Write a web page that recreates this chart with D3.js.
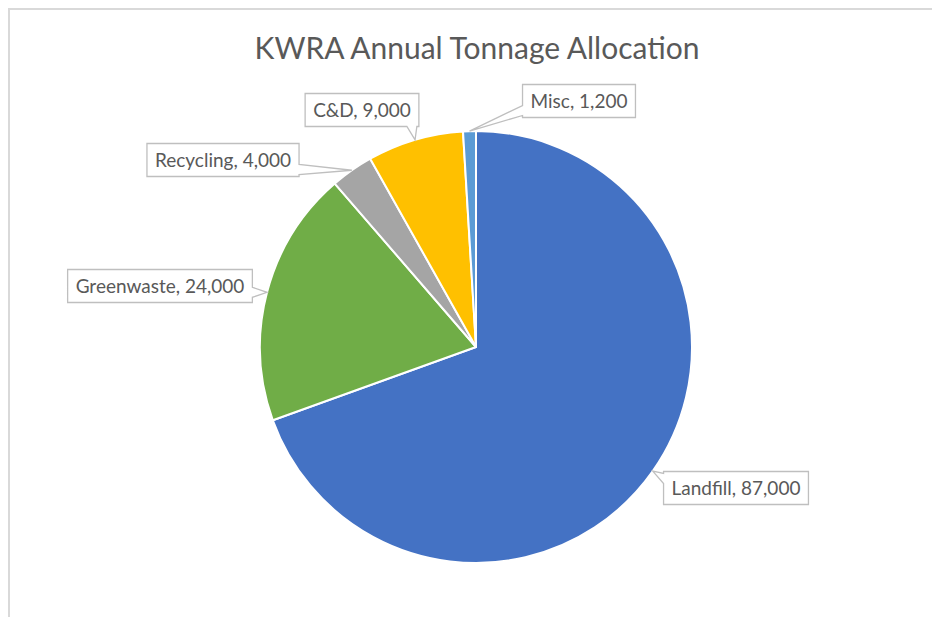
<!DOCTYPE html>
<html>
<head>
<meta charset="utf-8">
<script src="https://cdn.jsdelivr.net/npm/d3@7"></script>
<style>
  body { margin: 0; background: #fff; }
  svg { display: block; }
</style>
</head>
<body>
<div id="chart"></div>
<script>
// data
var categories = ["Landfill", "Greenwaste", "Recycling", "C&D", "Misc"];
var tonnage = [87000, 24000, 4000, 9000, 1200];
var colors = ["#4472C4", "#70AD47", "#A5A5A5", "#FFC000", "#5B9BD5"];

// label box centres (layout only)
var labelPos = {
  "Landfill": [736, 488],
  "Greenwaste": [160, 286],
  "Recycling": [223, 160],
  "C&D": [362, 110],
  "Misc": [579, 101]
};

var width = 932, height = 617;
var cx = 476, cy = 347, radius = 216;

var svg = d3.select("#chart").append("svg")
  .attr("width", width)
  .attr("height", height);

// chart area frame (only top/left visible)
svg.append("rect")
  .attr("x", 9).attr("y", 9)
  .attr("width", 1000).attr("height", 1000)
  .attr("fill", "#fff")
  .attr("stroke", "#d9d9d9")
  .attr("stroke-width", 2);

svg.append("text")
  .attr("x", 477)
  .attr("y", 59)
  .attr("text-anchor", "middle")
  .attr("font-family", "Lato, 'Open Sans', sans-serif")
  .attr("font-size", 30)
  .attr("fill", "#595959")
  .text("KWRA Annual Tonnage Allocation");

var data = categories.map(function(c, i) {
  return { name: c, value: tonnage[i], color: colors[i] };
});

var pie = d3.pie()
  .sort(null)
  .value(function(d) { return d.value; });

var arc = d3.arc().innerRadius(0).outerRadius(radius);

var arcs = pie(data);

var plot = svg.append("g")
  .attr("transform", "translate(" + cx + "," + cy + ")");

plot.selectAll("path")
  .data(arcs)
  .enter().append("path")
  .attr("d", arc)
  .attr("fill", function(d) { return d.data.color; })
  .attr("stroke", "#fff")
  .attr("stroke-width", 2)
  .attr("stroke-linejoin", "round");

var fmt = d3.format(",");

// builds a rectangle outline with a wedge pointing to the tip
function calloutPath(x0, y0, w, h, tip) {
  var x1 = x0 + w, y1 = y0 + h;
  var half = 5, m = 2;
  var dxL = x0 - tip[0], dxR = tip[0] - x1, dyT = y0 - tip[1], dyB = tip[1] - y1;
  var side = "left", best = dxL;
  if (dxR > best) { side = "right"; best = dxR; }
  if (dyT > best) { side = "top"; best = dyT; }
  if (dyB > best) { side = "bottom"; best = dyB; }
  function clamp(v, a, b) { return Math.max(a + half + m, Math.min(b - half - m, v)); }
  var pts = [];
  pts.push([x0, y0]);
  if (side == "top") {
    var c = clamp(tip[0], x0, x1);
    pts.push([c - half, y0], tip, [c + half, y0]);
  }
  pts.push([x1, y0]);
  if (side == "right") {
    var c = clamp(tip[1], y0, y1);
    pts.push([x1, c - half], tip, [x1, c + half]);
  }
  pts.push([x1, y1]);
  if (side == "bottom") {
    var c = clamp(tip[0], x0, x1);
    pts.push([c + half, y1], tip, [c - half, y1]);
  }
  pts.push([x0, y1]);
  if (side == "left") {
    var c = clamp(tip[1], y0, y1);
    pts.push([x0, c + half], tip, [x0, c - half]);
  }
  return "M" + pts.map(function(p) { return p[0] + "," + p[1]; }).join("L") + "Z";
}

var labels = svg.append("g");

arcs.forEach(function(d) {
  var mid = (d.startAngle + d.endAngle) / 2;
  var tip = [cx + radius * Math.sin(mid), cy - radius * Math.cos(mid)];
  var pos = labelPos[d.data.name];

  var g = labels.append("g");
  var path = g.append("path")
    .attr("fill", "#fff")
    .attr("stroke", "#bfbfbf")
    .attr("stroke-width", 1.3);
  var t = g.append("text")
    .attr("x", pos[0])
    .attr("y", pos[1])
    .attr("dy", "0.35em")
    .attr("text-anchor", "middle")
    .attr("font-family", "Lato, 'Open Sans', sans-serif")
    .attr("font-size", 19)
    .attr("fill", "#595959")
    .text(d.data.name + ", " + fmt(d.data.value));

  var tw = t.node().getComputedTextLength();
  var bw = tw + 16, bh = 33;
  path.attr("d", calloutPath(pos[0] - bw / 2, pos[1] - bh / 2, bw, bh, tip));
});
</script>
</body>
</html>
